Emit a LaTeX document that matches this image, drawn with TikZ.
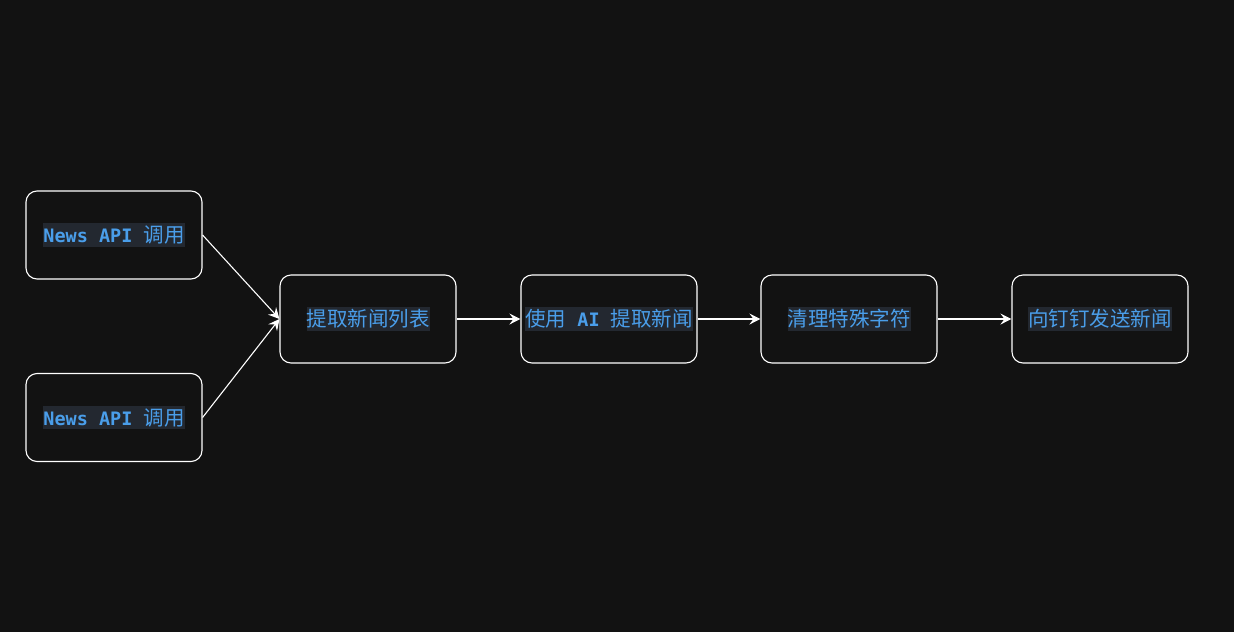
\documentclass[tikz,border=0pt]{standalone}
\usepackage{fontspec}
\setmainfont{Noto Sans CJK SC}
\newfontfamily\monof{DejaVu Sans Mono}
\usetikzlibrary{arrows.meta}
\definecolor{bg}{HTML}{121212}
\definecolor{hl}{HTML}{232830}
\definecolor{tx}{HTML}{4A9EEA}
\tikzset{
 box/.style={draw=white,line width=1.1pt,rounded corners=11pt,minimum width=176pt,minimum height=88pt,inner sep=0pt},
 lbl/.style={fill=hl,text=tx,font=\fontsize{20.5}{24}\selectfont,inner xsep=0pt,inner ysep=2.5pt},
 arr/.style={draw=white,line width=1.1pt,-{Stealth[length=11pt,width=11pt,inset=4pt]}}
}
\newcommand\mono[1]{{\monof\bfseries\fontsize{18.5}{22}\selectfont #1}}
\begin{document}
\begin{tikzpicture}[x=1pt,y=-1pt]
\fill[bg] (0,0) rectangle (1234,632);
\useasboundingbox (0,0) rectangle (1234,632);
\node[box] (a) at (114,235) {};
\node[box] (b) at (114,417.5) {};
\node[box] (c) at (368,319) {};
\node[box] (d) at (609,319) {};
\node[box] (e) at (849,319) {};
\node[box] (f) at (1100,319) {};
\node[lbl] (ta) at (a) {\mono{News API }调用};
\node[lbl] (tb) at (b) {\mono{News API }调用};
\node[lbl] (tc) at (c) {提取新闻列表};
\node[lbl] (td) at (d) {使用\mono{ AI }提取新闻};
\node[lbl] (te) at (e) {清理特殊字符};
\node[lbl] (tf) at (f) {向钉钉发送新闻};
\draw[arr] (a.east) -- (c.west);
\draw[arr] (b.east) -- (c.west);
\draw[arr] (c) -- (d);
\draw[arr] (d) -- (e);
\draw[arr] (e) -- (f);
\end{tikzpicture}
\end{document}
